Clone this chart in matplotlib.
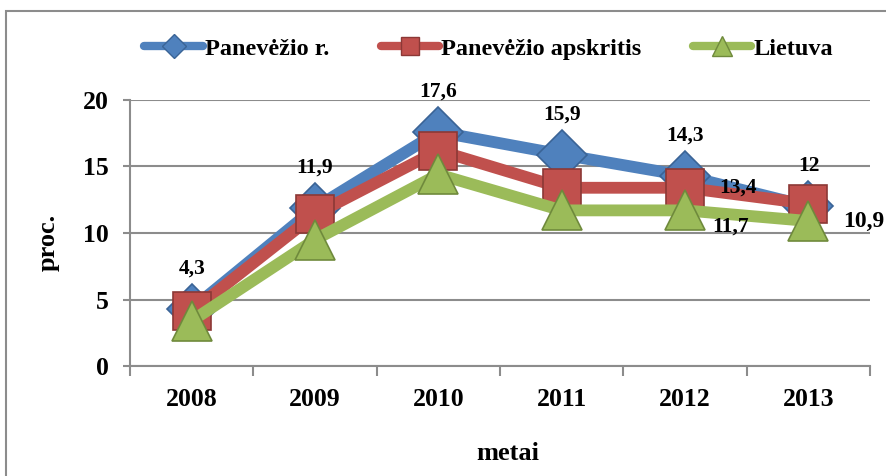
import matplotlib

matplotlib.use("Agg")

import matplotlib.pyplot as plt
from matplotlib.lines import Line2D
from matplotlib.patches import Rectangle

YEARS = ["2008", "2009", "2010", "2011", "2012", "2013"]
RAJONAS = [4.3, 11.9, 17.6, 15.9, 14.3, 12.0]
APSKRITIS = [4.1, 11.4, 16.2, 13.4, 13.4, 12.2]
LIETUVA = [3.4, 9.5, 14.4, 11.7, 11.7, 10.9]

RAJONAS_LABELS = ["4,3", "11,9", "17,6", "15,9", "14,3", "12"]

SERIES = [
    ("Panevėžio r.", RAJONAS, "#4F81BD", "#3A6496", "D", 25),
    ("Panevėžio apskritis", APSKRITIS, "#C0504D", "#8C3836", "s", 27),
    ("Lietuva", LIETUVA, "#9BBB59", "#6F8A3C", "^", 29),
]

FONT = "Liberation Serif"
GRID = "#8c8c8c"

plt.rcParams["font.family"] = [FONT, "DejaVu Serif"]
plt.rcParams["font.weight"] = "bold"

fig = plt.figure(figsize=(8.87, 4.76), dpi=100)
ax = fig.add_axes([0.1466, 0.231, 0.8344, 0.559])

xs = list(range(len(YEARS)))
handles = []
for label, values, color, edge, marker, size in SERIES:
    ax.plot(xs, values, color=color, linewidth=8.5, marker=marker,
            markersize=size, markerfacecolor=color, markeredgecolor=edge,
            markeredgewidth=1.2, solid_capstyle="round", zorder=3)
    handles.append(Line2D([], [], color=color, linewidth=6, marker=marker,
                          markersize=size * 0.5, markerfacecolor=color,
                          markeredgecolor=edge, solid_capstyle="round", label=label))

# value labels
for i, txt in enumerate(RAJONAS_LABELS):
    ax.annotate(txt, xy=(i, RAJONAS[i]), xytext=(0, 29), textcoords="offset points",
                ha="center", va="center", fontsize=15.5, fontweight="bold", zorder=5)
ax.annotate("13,4", xy=(4, APSKRITIS[4]), xytext=(38, 0), textcoords="offset points",
            ha="center", va="center", fontsize=15.5, fontweight="bold", zorder=5)
ax.annotate("11,7", xy=(4, LIETUVA[4]), xytext=(33, -12), textcoords="offset points",
            ha="center", va="center", fontsize=15.5, fontweight="bold", zorder=5)
ax.annotate("10,9", xy=(5, LIETUVA[5]), xytext=(40, 0), textcoords="offset points",
            ha="center", va="center", fontsize=17, fontweight="bold", zorder=5,
            annotation_clip=False)

ax.set_xlim(-0.5, len(YEARS) - 0.5)
ax.set_ylim(0, 20)
ax.set_yticks([0, 5, 10, 15, 20])
ax.set_xticks(xs)
ax.set_xticklabels(YEARS)
ax.set_xticks([i - 0.5 for i in range(len(YEARS) + 1)], minor=True)
ax.tick_params(axis="x", which="major", length=0, pad=16, labelsize=18.5)
ax.tick_params(axis="x", which="minor", length=7, width=1.5, color=GRID, direction="out")
ax.tick_params(axis="y", length=5, width=1.5, color=GRID, pad=10, labelsize=18.5)
for lab in ax.get_xticklabels() + ax.get_yticklabels():
    lab.set_fontweight("bold")

ax.grid(axis="y", color=GRID, linewidth=1.5, zorder=0)
ax.set_axisbelow(True)
for side in ["top", "right"]:
    ax.spines[side].set_visible(False)
for side in ["left", "bottom"]:
    ax.spines[side].set_color(GRID)
    ax.spines[side].set_linewidth(1.5)

fig.text(0.054, 0.49, "proc.", rotation=90, ha="center", va="center",
         fontsize=19, fontweight="bold")
fig.text(0.573, 0.048, "metai", ha="center", va="center", fontsize=19, fontweight="bold")

leg = fig.legend(handles=handles, loc="center", bbox_to_anchor=(0.551, 0.898), ncol=3,
                 frameon=False, handlelength=2.4, handletextpad=0.1,
                 columnspacing=2.1, fontsize=17.5)
for t in leg.get_texts():
    t.set_fontfamily([FONT, "DejaVu Serif"])
    t.set_fontweight("bold")

fig.patches.append(Rectangle((6 / 887, -0.1), 1.2, 1 - 11 / 476 + 0.1, transform=fig.transFigure,
                             fill=False, edgecolor="#8c8c8c", linewidth=1.5, zorder=0))

fig.savefig("out.png", dpi=100)
